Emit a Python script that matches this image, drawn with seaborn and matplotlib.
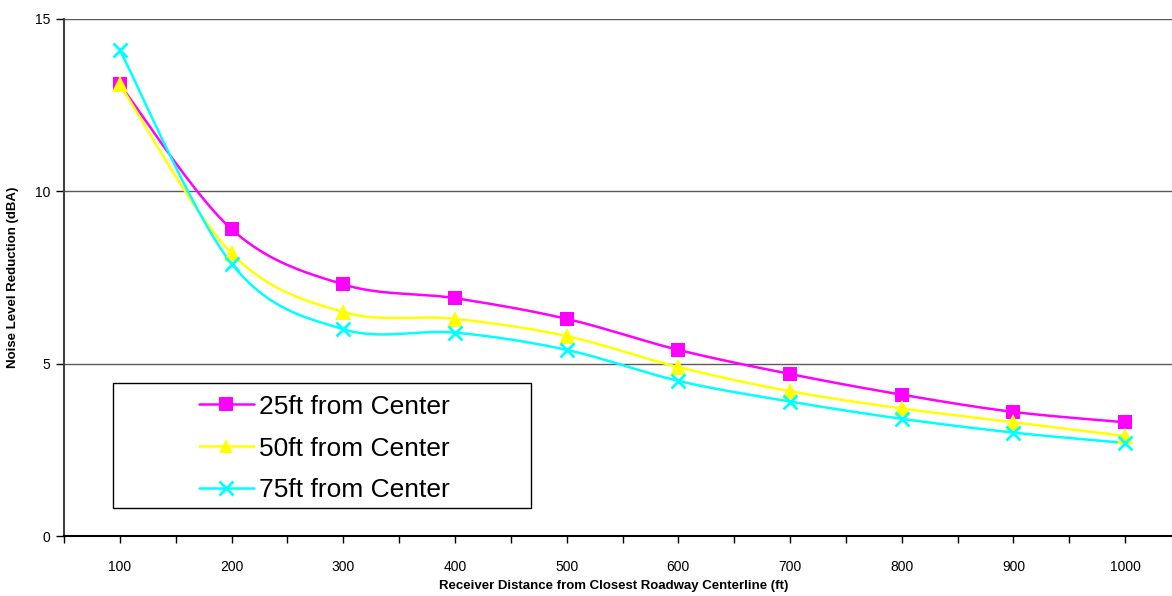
import numpy as np
import pandas as pd
import matplotlib
matplotlib.use("Agg")
import matplotlib.pyplot as plt
import seaborn as sns
from matplotlib.lines import Line2D
from matplotlib.patches import Rectangle

# ---- data ----
distances = ["100", "200", "300", "400", "500", "600", "700", "800", "900", "1000"]
series_names = ["25ft from Center", "50ft from Center", "75ft from Center"]
vals_25 = [13.1, 8.9, 7.3, 6.9, 6.3, 5.4, 4.7, 4.1, 3.6, 3.3]
vals_50 = [13.1, 8.2, 6.5, 6.3, 5.8, 4.9, 4.2, 3.7, 3.3, 2.9]
vals_75 = [14.1, 7.9, 6.0, 5.9, 5.4, 4.5, 3.9, 3.4, 3.0, 2.7]
colors = ["#FF00FF", "#FFFF00", "#00FFFF"]
markers = ["s", "^", "x"]

sns.set_style("white")
plt.rcParams["font.family"] = ["Liberation Sans", "DejaVu Sans"]
plt.rcParams["text.color"] = "black"
plt.rcParams["axes.labelcolor"] = "black"
plt.rcParams["xtick.color"] = "black"
plt.rcParams["ytick.color"] = "black"

W, H = 1172, 596
fig = plt.figure(figsize=(W / 100, H / 100), dpi=100)
ax_l, ax_r, ax_t, ax_b = 64, 1181, 19, 536
ax = fig.add_axes([ax_l / W, (H - ax_b) / H, (ax_r - ax_l) / W, (ax_b - ax_t) / H])

xs = np.arange(len(distances), dtype=float)
sx = (ax_r - ax_l) / len(distances)
sy = (ax_b - ax_t) / 15.0


def smooth(x, y, n=40):
    # Catmull-Rom style Bezier smoothing (like spreadsheet "smoothed line"), in pixel space
    P = np.column_stack([np.asarray(x) * sx, np.asarray(y) * sy])
    out = []
    for i in range(len(P) - 1):
        p0 = P[i - 1] if i > 0 else P[i]
        p1 = P[i]
        p2 = P[i + 1]
        p3 = P[i + 2] if i + 2 < len(P) else P[i + 1]
        c1 = p1 + (p2 - p0) / 6.0
        c2 = p2 - (p3 - p1) / 6.0
        t = np.linspace(0, 1, n, endpoint=(i == len(P) - 2))[:, None]
        b = ((1 - t) ** 3) * p1 + 3 * ((1 - t) ** 2) * t * c1 + 3 * (1 - t) * t ** 2 * c2 + t ** 3 * p2
        out.append(b)
    out = np.vstack(out)
    return out[:, 0] / sx, out[:, 1] / sy


LW = 1.8
all_vals = [vals_25, vals_50, vals_75]
for name, vals, c, m in zip(series_names, all_vals, colors, markers):
    cx, cy = smooth(xs, vals)
    df = pd.DataFrame({"x": cx, "y": cy})
    sns.lineplot(data=df, x="x", y="y", sort=False, color=c, linewidth=LW, ax=ax,
                 estimator=None, zorder=3)
    if m == "x":
        ax.plot(xs, vals, linestyle="none", marker=m, markersize=10.5, markeredgewidth=2,
                color=c, zorder=4, clip_on=False)
    else:
        ax.plot(xs, vals, linestyle="none", marker=m, markersize=10.5 if m == "s" else 11.5,
                markeredgewidth=0, color=c, zorder=4, clip_on=False)

ax.set_xlim(-0.5, len(distances) - 0.5)
ax.set_ylim(0, 15)
ax.set_yticks([0, 5, 10, 15])
ax.set_xticks(xs)
ax.set_xticklabels(distances)
ax.set_xticks(np.arange(-0.5, len(distances), 1.0), minor=True)
ax.tick_params(axis="x", which="both", direction="out", length=5, width=1, color="black",
               bottom=True, labelsize=10, pad=12)
ax.tick_params(axis="y", which="major", direction="out", length=6, width=1, color="black",
               left=True, labelsize=10, pad=4)

for yv in [5, 10, 15]:
    ax.axhline(yv, color="#5a5a5a", linewidth=1.0, zorder=1)
ax.grid(False)

for s in ["top", "right"]:
    ax.spines[s].set_visible(False)
ax.spines["left"].set_color("#404040")
ax.spines["left"].set_linewidth(1.5)
ax.spines["bottom"].set_color("black")
ax.spines["bottom"].set_linewidth(1.5)

ax.set_xlabel("Receiver Distance from Closest Roadway Centerline (ft)", fontsize=9.5,
              fontweight="bold")
ax.set_ylabel("Noise Level Reduction (dBA)", fontsize=9.5, fontweight="bold")
ax.xaxis.set_label_coords((614 - ax_l) / (ax_r - ax_l), -(580 - ax_b) / (ax_b - ax_t))
ax.yaxis.set_label_coords(-(64 - 19) / (ax_r - ax_l), 0.5)

# legend box
lx0, lx1, ly0, ly1 = 113, 531, 383, 508
rx = (lx0 - ax_l) / (ax_r - ax_l)
rw = (lx1 - lx0) / (ax_r - ax_l)
ry = (ax_b - ly1) / (ax_b - ax_t)
rh = (ly1 - ly0) / (ax_b - ax_t)
ax.add_patch(Rectangle((rx, ry), rw, rh, transform=ax.transAxes, facecolor="white",
                       edgecolor="black", linewidth=1.0, zorder=5))
handles = []
for name, c, m in zip(series_names, colors, markers):
    if m == "x":
        h = Line2D([], [], color=c, linewidth=LW, marker=m, markersize=10.5, markeredgewidth=2)
    else:
        h = Line2D([], [], color=c, linewidth=LW, marker=m, markersize=10.5, markeredgewidth=0)
    handles.append(h)
leg = ax.legend(handles, series_names, loc="center",
                bbox_to_anchor=(rx + rw / 2 + 0.002, ry + rh / 2 - 3 / (ax_b - ax_t)),
                frameon=False, fontsize=19, handlelength=2.1, handletextpad=0.2,
                labelspacing=0.68, borderpad=0.2)
leg.set_zorder(6)

fig.savefig("out.png", dpi=100)
